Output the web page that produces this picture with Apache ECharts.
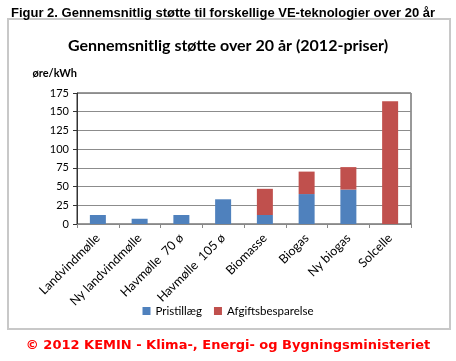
<!DOCTYPE html>
<html><head><meta charset="utf-8">
<script src="https://cdn.jsdelivr.net/npm/echarts@6/dist/echarts.min.js"></script>
<style>html,body{margin:0;padding:0;background:#fff}#c{width:456px;height:361px}</style>
</head><body><div id="c"></div>
<script>
const categories = ['Landvindmølle','Ny landvindmølle','Havmølle  70 ø','Havmølle  105 ø','Biomasse','Biogas','Ny biogas','Solcelle'];
const pristillaeg = [12, 7, 12, 33, 12, 40, 46, 0];
const afgiftsbesparelse = [0, 0, 0, 0, 35, 30, 30, 164];
const yTicks = [0, 25, 50, 75, 100, 125, 150, 175];

const chart = echarts.init(document.getElementById('c'), null, {renderer:'canvas'});
chart.setOption({
  animation:false,
  backgroundColor:'#fff',
  title:[
    {text:'Figur 2. Gennemsnitlig støtte til forskellige VE-teknologier over 20 år', left:6, top:2,
     textStyle:{fontFamily:'Liberation Sans', fontWeight:'bold', fontSize:13, color:'#000'}},
    {text:'Gennemsnitlig støtte over 20 år (2012-priser)', left:'center', top:33,
     textStyle:{fontFamily:'Lato', fontWeight:'bold', fontSize:16, color:'#000'}},
    {text:'© 2012 KEMIN - Klima-, Energi- og Bygningsministeriet', left:'center', top:334,
     textStyle:{fontFamily:'DejaVu Sans', fontWeight:'bold', fontSize:13, color:'#ff0000'}}
  ],
  graphic:[{type:'rect', shape:{x:8, y:19, width:442, height:310}, style:{fill:'none', stroke:'#c8c8c8', lineWidth:2}, silent:true}],
  legend:{bottom:39, left:'center', itemWidth:8, itemHeight:8, itemGap:12, icon:'rect',
    textStyle:{fontFamily:'Lato', fontSize:11.5, color:'#000'}, data:['Pristillæg','Afgiftsbesparelse']},
  grid:{left:77, right:45, top:93, bottom:137, show:true, borderColor:'#333', borderWidth:1, backgroundColor:'transparent'},
  xAxis:{type:'category', data:categories,
    axisLine:{lineStyle:{color:'#888'}}, axisTick:{show:true, alignWithLabel:false, length:4, lineStyle:{color:'#888'}},
    axisLabel:{rotate:45, interval:0, fontFamily:'Lato', fontSize:12.5, color:'#000', margin:12}},
  yAxis:{type:'value', min:0, max:175, interval:25,
    name:'øre/kWh', nameLocation:'end', nameGap:14, nameTextStyle:{fontFamily:'Lato', fontWeight:'bold', fontSize:11, color:'#000', align:'right', padding:[0,0,0,0]},
    axisLine:{show:true, lineStyle:{color:'#333'}}, axisTick:{show:true, length:4, inside:false, lineStyle:{color:'#333'}},
    axisLabel:{fontFamily:'Lato', fontSize:11, color:'#000', margin:8, formatter:v=>yTicks.includes(v)?String(v):''},
    splitLine:{lineStyle:{color:'#8c8c8c', width:1}}},
  series:[
    {name:'Pristillæg', type:'bar', stack:'s', data:pristillaeg, barWidth:16, itemStyle:{color:'#4F81BD'}},
    {name:'Afgiftsbesparelse', type:'bar', stack:'s', data:afgiftsbesparelse, barWidth:16, itemStyle:{color:'#C0504D'}}
  ]
});
</script></body></html>
